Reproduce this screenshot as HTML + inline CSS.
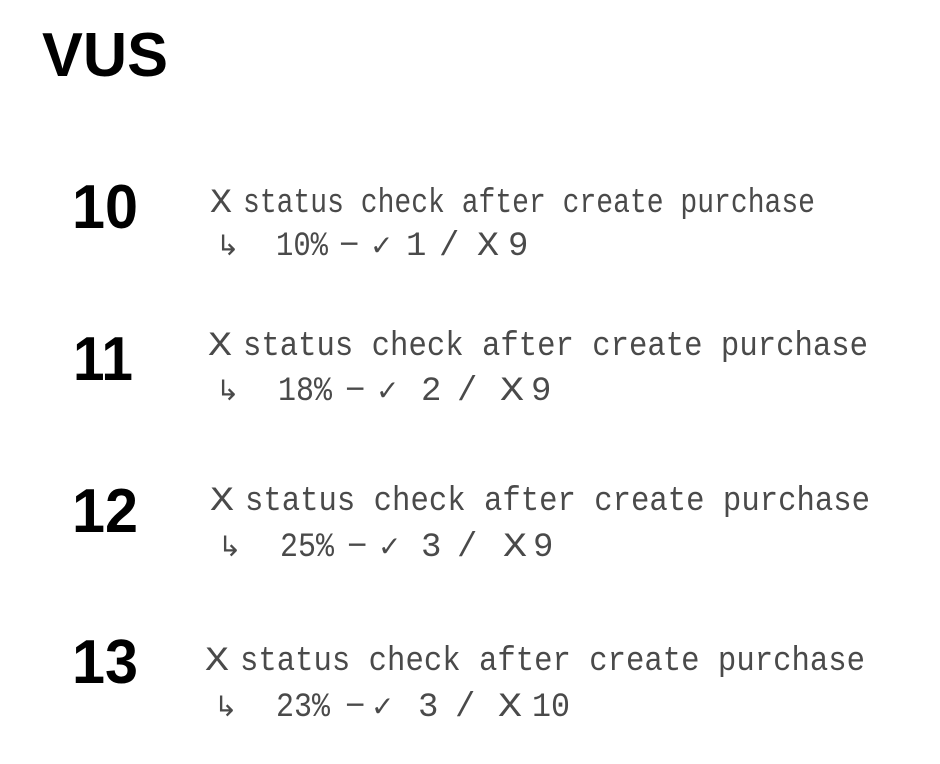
<!DOCTYPE html>
<html><head><meta charset="utf-8"><style>
html,body{margin:0;padding:0;background:#fff;}
svg{display:block}
.n{font-family:"Liberation Sans",sans-serif;font-weight:bold;font-size:62px;fill:#000}
.t{font-family:"Liberation Mono","DejaVu Sans Mono",monospace;font-size:34px;fill:#4a4a4a}
.x{font-family:"DejaVu Sans",sans-serif;font-size:34px;fill:#555;font-weight:200}
.s{font-family:"DejaVu Sans",sans-serif;font-size:28px;fill:#4a4a4a}
</style></head><body>
<svg width="940" height="764" viewBox="0 0 940 764" xmlns="http://www.w3.org/2000/svg">
<text class="n" x="42" y="76" textLength="126" lengthAdjust="spacingAndGlyphs">VUS</text>

<text class="n" x="72" y="228" textLength="66" lengthAdjust="spacingAndGlyphs">10</text>
<text class="t" x="210" y="212" textLength="22" lengthAdjust="spacingAndGlyphs">X</text>
<text class="t" x="243" y="212" textLength="572" lengthAdjust="spacingAndGlyphs">status check after create purchase</text>
<text class="s" x="216" y="255">↳</text>
<text class="t" x="276" y="255" textLength="52" lengthAdjust="spacingAndGlyphs">10%</text>
<text class="t" x="339" y="255">−</text>
<text class="s" x="370" y="255">✓</text>
<text class="t" x="406" y="255">1</text>
<text class="t" x="439" y="255">/</text>
<text class="t" x="477" y="255" textLength="22" lengthAdjust="spacingAndGlyphs">X</text>
<text class="t" x="508" y="255">9</text>

<text class="n" x="73" y="380" textLength="60" lengthAdjust="spacingAndGlyphs">11</text>
<text class="t" x="208" y="355" textLength="24" lengthAdjust="spacingAndGlyphs">X</text>
<text class="t" x="243" y="355" textLength="625" lengthAdjust="spacingAndGlyphs">status check after create purchase</text>
<text class="s" x="216" y="400">↳</text>
<text class="t" x="278" y="400" textLength="54" lengthAdjust="spacingAndGlyphs">18%</text>
<text class="t" x="345" y="400">−</text>
<text class="s" x="376" y="400">✓</text>
<text class="t" x="421" y="400">2</text>
<text class="t" x="457" y="400">/</text>
<text class="t" x="500" y="400" textLength="24" lengthAdjust="spacingAndGlyphs">X</text>
<text class="t" x="531" y="400">9</text>

<text class="n" x="72" y="532" textLength="66" lengthAdjust="spacingAndGlyphs">12</text>
<text class="t" x="210" y="510" textLength="24" lengthAdjust="spacingAndGlyphs">X</text>
<text class="t" x="245" y="510" textLength="625" lengthAdjust="spacingAndGlyphs">status check after create purchase</text>
<text class="s" x="218" y="556">↳</text>
<text class="t" x="280" y="556" textLength="54" lengthAdjust="spacingAndGlyphs">25%</text>
<text class="t" x="347" y="556">−</text>
<text class="s" x="378" y="556">✓</text>
<text class="t" x="421" y="556">3</text>
<text class="t" x="457" y="556">/</text>
<text class="t" x="503" y="556" textLength="24" lengthAdjust="spacingAndGlyphs">X</text>
<text class="t" x="533" y="556">9</text>

<text class="n" x="72" y="683" textLength="66" lengthAdjust="spacingAndGlyphs">13</text>
<text class="t" x="205" y="670" textLength="24" lengthAdjust="spacingAndGlyphs">X</text>
<text class="t" x="240" y="670" textLength="625" lengthAdjust="spacingAndGlyphs">status check after create purchase</text>
<text class="s" x="214" y="716">↳</text>
<text class="t" x="276" y="716" textLength="54" lengthAdjust="spacingAndGlyphs">23%</text>
<text class="t" x="345" y="716">−</text>
<text class="s" x="371" y="716">✓</text>
<text class="t" x="418" y="716">3</text>
<text class="t" x="455" y="716">/</text>
<text class="t" x="498" y="716" textLength="24" lengthAdjust="spacingAndGlyphs">X</text>
<text class="t" x="532" y="716" textLength="38" lengthAdjust="spacingAndGlyphs">10</text>
</svg>
</body></html>
